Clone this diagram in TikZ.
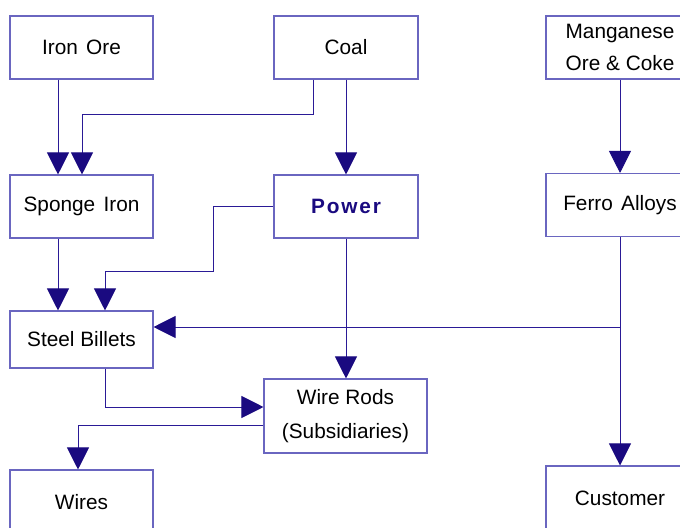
\documentclass[tikz,border=0pt]{standalone}
\usepackage{fontspec}
\setmainfont{Liberation Sans}
\usetikzlibrary{arrows.meta,calc}
\definecolor{boxline}{HTML}{6A66C0}
\definecolor{conline}{HTML}{2A1A96}
\definecolor{tipfill}{HTML}{1A0A80}
\begin{document}
\begin{tikzpicture}[x=0.75pt,y=-0.75pt,
  font=\fontsize{15.6}{23}\selectfont,
  blk/.style={draw=boxline,line width=0.8pt,fill=white,inner sep=0pt,
    minimum width=143*0.75pt,minimum height=63*0.75pt,align=center,text=black},
  conn/.style={draw=conline,line width=0.75pt,
    -{Triangle[width=16.5pt,length=16.5pt,fill=tipfill,color=tipfill]}},
  plain/.style={draw=conline,line width=0.75pt}]
\useasboundingbox (0,0) rectangle (680,527);
\clip (0,0) rectangle (680,527);
% nodes
\node[blk] (iron) at (81.5,47.5) {Iron\hspace{0.12em} Ore};
\node[blk,minimum width=144*0.75pt] (coal) at (346,47.5) {Coal};
\node[blk,minimum width=148*0.75pt,font=\fontsize{15.6}{23.5}\selectfont] (mang) at (620,47.5) {Manganese\\Ore \& Coke};
\node[blk] (sponge) at (81.5,206.5) {Sponge\hspace{0.12em} Iron};
\node[blk,minimum width=144*0.75pt,text=tipfill] (power) at (346,206.5)
  {\addfontfeature{LetterSpace=9}\bfseries Power};
\node[blk,minimum width=148*0.75pt] (ferro) at (620,205) {Ferro\hspace{0.12em} Alloys};
\node[blk,minimum height=57*0.75pt] (steel) at (81.5,339.5) {Steel Billets};
\node[blk,minimum width=163*0.75pt,minimum height=74*0.75pt,font=\fontsize{15.6}{25}\selectfont] (wr) at (345.5,416) {Wire Rods\\(Subsidiaries)};
\node[blk,minimum height=64*0.75pt] (wires) at (81.5,502) {Wires};
\node[blk,minimum width=148*0.75pt,minimum height=64*0.75pt] (cust) at (620,498) {Customer};
% helper coordinates
\coordinate (x58) at (58,0);
\coordinate (x82) at (82,0);
\coordinate (x313) at (313,0);
\coordinate (x105) at (105,0);
\coordinate (x78) at (78,0);
\coordinate (p1) at (213,271);
\coordinate (y327) at (0,327);
\coordinate (y407) at (0,407);
\coordinate (y425) at (0,425);
\coordinate (y206) at (0,206);
% connectors
\draw[conn] (iron.south -| x58) -- (sponge.north -| x58);
\draw[conn] (coal.south -| x313) -- ++(0,35) -| (sponge.north -| x82);
\draw[conn] (coal.south) -- (power.north);
\draw[conn] (mang.south) -- (ferro.north);
\draw[conn] (sponge.south -| x58) -- (steel.north -| x58);
\draw[conn] (power.west |- y206) -| (p1) -| (steel.north -| x105);
\draw[conn] (power.south) -- (wr.north -| power.south);
\draw[conn] (ferro.south) -- (cust.north);
\draw[conn] (ferro.south |- y327) -- (steel.east |- y327);
\draw[conn] (steel.south -| x105) |- (wr.west |- y407);
\draw[conn] (wr.west |- y425) -| (wires.north -| x78);
\end{tikzpicture}
\end{document}
